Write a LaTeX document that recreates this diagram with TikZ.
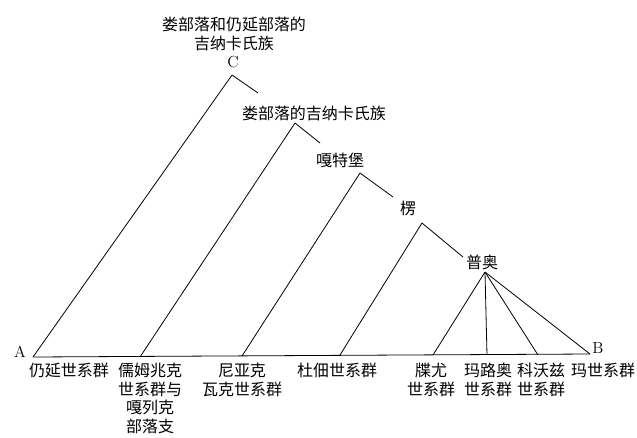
\documentclass[tikz,border=0pt]{standalone}
\usepackage{fontspec}
\usepackage{tikz}
\usetikzlibrary{positioning}
\newfontfamily\cjk{Noto Sans CJK SC}
\tikzstyle{branch}=[coordinate]
\tikzstyle{clan}=[inner sep=0, align=center, font=\cjk\fontsize{12}{13.9}\selectfont]
\tikzstyle{tribe}=[clan, anchor=north]
\tikzstyle{pt}=[inner sep=0, font=\fontsize{12}{14}\selectfont]

\begin{document}
\begin{tikzpicture}[x=0.75pt, y=-0.75pt, line width=0.6pt]
            \useasboundingbox (0,0) rectangle (637,437);

            % branching points
            \node[branch] (c) at (232,75) {};
            \node[branch] (d) at (295,123) {};
            \node[branch] (g) at (360,173) {};
            \node[branch] (l) at (422,223) {};
            \node[branch] (p) at (485,272) {};

            % short strokes towards the next label
            \node[branch] (c1) at (258,93) {};
            \node[branch] (d1) at (320,143) {};
            \node[branch] (g1) at (393,197) {};
            \node[branch] (l1) at (463,257) {};

            % feet on the base line
            \node[branch] (a) at (33,357) {};
            \node[branch] (b1) at (140,357) {};
            \node[branch] (b2) at (242,356) {};
            \node[branch] (b3) at (340,355) {};
            \node[branch] (b4) at (433,355) {};
            \node[branch] (b5) at (487,355) {};
            \node[branch] (b6) at (538,355) {};
            \node[branch] (b) at (590,354) {};

            \node[pt] (lc) at (233,62) {C};
            \node[pt] (la) at (20,352) {A};
            \node[pt] (lb) at (598,348) {B};

            \node[clan] (top) at (234,34) {娄部落和仍延部落的\\吉纳卡氏族};
            \node[clan] (lou) at (314,113) {娄部落的吉纳卡氏族};
            \node[clan] (gat) at (340,160) {嘎特堡};
            \node[clan] (leng) at (408,208) {楞};
            \node[clan] (pu) at (482,262) {普奥};

            \node[tribe] (t1) at (69,363) {仍延世系群};
            \node[tribe] (t2) at (150,363) {儒姆兆克\\世系群与\\嘎列克\\部落支};
            \node[tribe] (t3) at (242,363) {尼亚克\\瓦克世系群};
            \node[tribe] (t4) at (337,363) {杜佃世系群};
            \node[tribe] (t5) at (431,363) {牒尤\\世系群};
            \node[tribe] (t6) at (488,363) {玛路奥\\世系群};
            \node[tribe] (t7) at (541,363) {科沃兹\\世系群};
            \node[tribe] (t8) at (603,363) {玛世系群};

            \draw (a) -- (b);
            \draw (c) -- (a);
            \draw (c) -- (c1);
            \draw (d) -- (b1);
            \draw (d) -- (d1);
            \draw (g) -- (b2);
            \draw (g) -- (g1);
            \draw (l) -- (b3);
            \draw (l) -- (l1);

            \draw (p) -- (b4);
            \draw (p) -- (b5);
            \draw (p) -- (b6);
            \draw (p) -- (b);
        \end{tikzpicture}
\end{document}
